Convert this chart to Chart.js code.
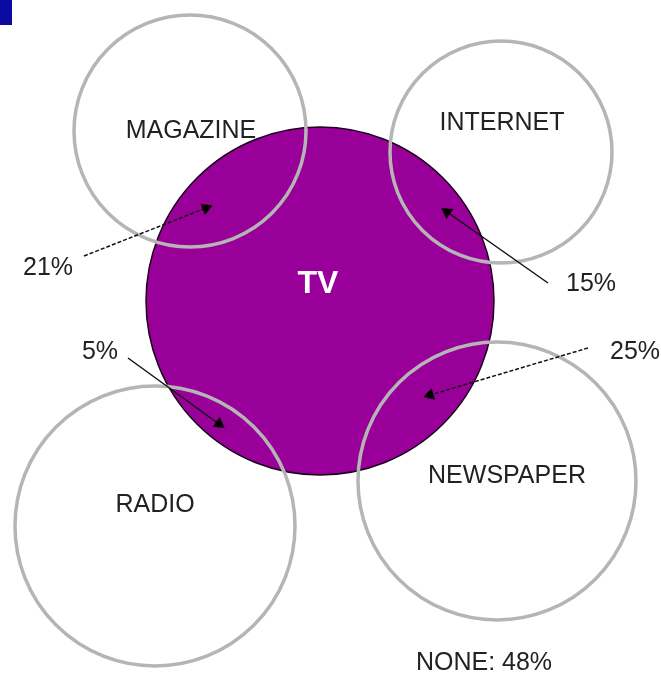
<!DOCTYPE html>
<html lang="en">
<head>
    <meta charset="UTF-8">
    <title>Media overlap with TV</title>
    <script src="https://cdn.jsdelivr.net/npm/chart.js"></script>
    <style>
        body { margin: 0; padding: 0; background: #fff; }
        canvas { display: block; }
    </style>
</head>
<body>
    <canvas id="venn" width="661" height="675"></canvas>
    <script>
        // circles (centre and radius in picture units)
        const mediaNames = ['TV', 'MAGAZINE', 'INTERNET', 'RADIO', 'NEWSPAPER'];
        const mediaX = [320, 190, 501, 155, 497];
        const mediaY = [301, 131, 152, 526, 481];
        const mediaR = [174, 116, 111, 140, 139];
        // where the name sits
        const nameX = [318, 191, 502, 155, 507];
        const nameY = [284, 131, 123, 505, 476];

        // overlap shares with TV and their arrows
        const shareText = ['21%', '15%', '5%', '25%'];
        const shareX = [48, 591, 100, 635];
        const shareY = [268, 284, 352, 352];
        const arrowFromX = [84, 548, 128, 588];
        const arrowFromY = [256, 283, 358, 348];
        const arrowToX = [206, 447, 219, 430];
        const arrowToY = [208, 212, 424, 395];
        const arrowDashed = [true, false, false, true];

        const noneText = 'NONE: 48%';
        const nonePos = [484, 663];

        const FONT = "'Liberation Sans', Arial, sans-serif";

        // radius given in axis units -> pixels
        function pxRadius(ctx) {
            const s = ctx.chart.scales.x;
            const d = ctx.raw;
            if (!s || !d) return 0;
            const r = s.getPixelForValue(d.x + d.size) - s.getPixelForValue(d.x);
            return isFinite(r) ? r : 0;
        }

        function arrowRotation(ctx) {
            const ds = ctx.dataset.data;
            const sx = ctx.chart.scales.x, sy = ctx.chart.scales.y;
            const dx = sx.getPixelForValue(ds[1].x) - sx.getPixelForValue(ds[0].x);
            const dy = sy.getPixelForValue(ds[1].y) - sy.getPixelForValue(ds[0].y);
            const a = Math.atan2(dx, -dy) * 180 / Math.PI;
            return isFinite(a) ? a : 0;
        }

        const tv = {
            type: 'scatter',
            order: 3,
            clip: false,
            showLine: false,
            data: [{ x: mediaX[0], y: mediaY[0], size: mediaR[0] }],
            pointBackgroundColor: '#990099',
            pointBorderColor: '#1a001a',
            pointBorderWidth: 1.5,
            pointRadius: pxRadius
        };

        const rings = {
            type: 'scatter',
            order: 2,
            clip: false,
            showLine: false,
            data: mediaNames.slice(1).map((n, i) => ({ x: mediaX[i + 1], y: mediaY[i + 1], size: mediaR[i + 1] })),
            pointBackgroundColor: 'rgba(0,0,0,0)',
            pointBorderColor: '#b5b5b5',
            pointBorderWidth: 3.5,
            pointRadius: pxRadius
        };

        const arrows = shareText.map((t, i) => ({
            type: 'scatter',
            order: 1,
            clip: false,
            showLine: true,
            data: [{ x: arrowFromX[i], y: arrowFromY[i] }, { x: arrowToX[i], y: arrowToY[i] }],
            borderColor: '#111',
            borderWidth: 1.5,
            borderDash: arrowDashed[i] ? [4, 2] : [],
            pointStyle: 'triangle',
            pointRadius: [0, 7],
            pointBorderWidth: 0,
            pointBackgroundColor: '#000',
            pointRotation: arrowRotation
        }));

        // names, shares and the small corner square
        const textPlugin = {
            id: 'vennText',
            afterDatasetsDraw(chart) {
                const c = chart.ctx, sx = chart.scales.x, sy = chart.scales.y;
                c.save();
                c.fillStyle = '#0a0aa0';
                c.fillRect(sx.getPixelForValue(0), sy.getPixelForValue(0),
                    sx.getPixelForValue(12) - sx.getPixelForValue(0),
                    sy.getPixelForValue(25) - sy.getPixelForValue(0));
                c.textAlign = 'center';
                c.textBaseline = 'middle';
                mediaNames.forEach((n, i) => {
                    if (i === 0) {
                        c.font = 'bold 32px ' + FONT;
                        c.fillStyle = '#fff';
                    } else {
                        c.font = '25px ' + FONT;
                        c.fillStyle = '#222';
                    }
                    c.fillText(n, sx.getPixelForValue(nameX[i]), sy.getPixelForValue(nameY[i]));
                });
                c.font = '25px ' + FONT;
                c.fillStyle = '#222';
                shareText.forEach((t, i) => {
                    c.fillText(t, sx.getPixelForValue(shareX[i]), sy.getPixelForValue(shareY[i]));
                });
                c.fillText(noneText, sx.getPixelForValue(nonePos[0]), sy.getPixelForValue(nonePos[1]));
                c.restore();
            }
        };

        new Chart(document.getElementById('venn'), {
            type: 'scatter',
            data: { datasets: [tv, rings, ...arrows] },
            options: {
                responsive: false,
                animation: false,
                events: [],
                layout: { padding: 0, autoPadding: false },
                plugins: { legend: { display: false }, tooltip: { enabled: false } },
                scales: {
                    x: { type: 'linear', min: 0, max: 661, display: false },
                    y: { type: 'linear', min: 0, max: 675, reverse: true, display: false }
                }
            },
            plugins: [textPlugin]
        });
    </script>
</body>
</html>
